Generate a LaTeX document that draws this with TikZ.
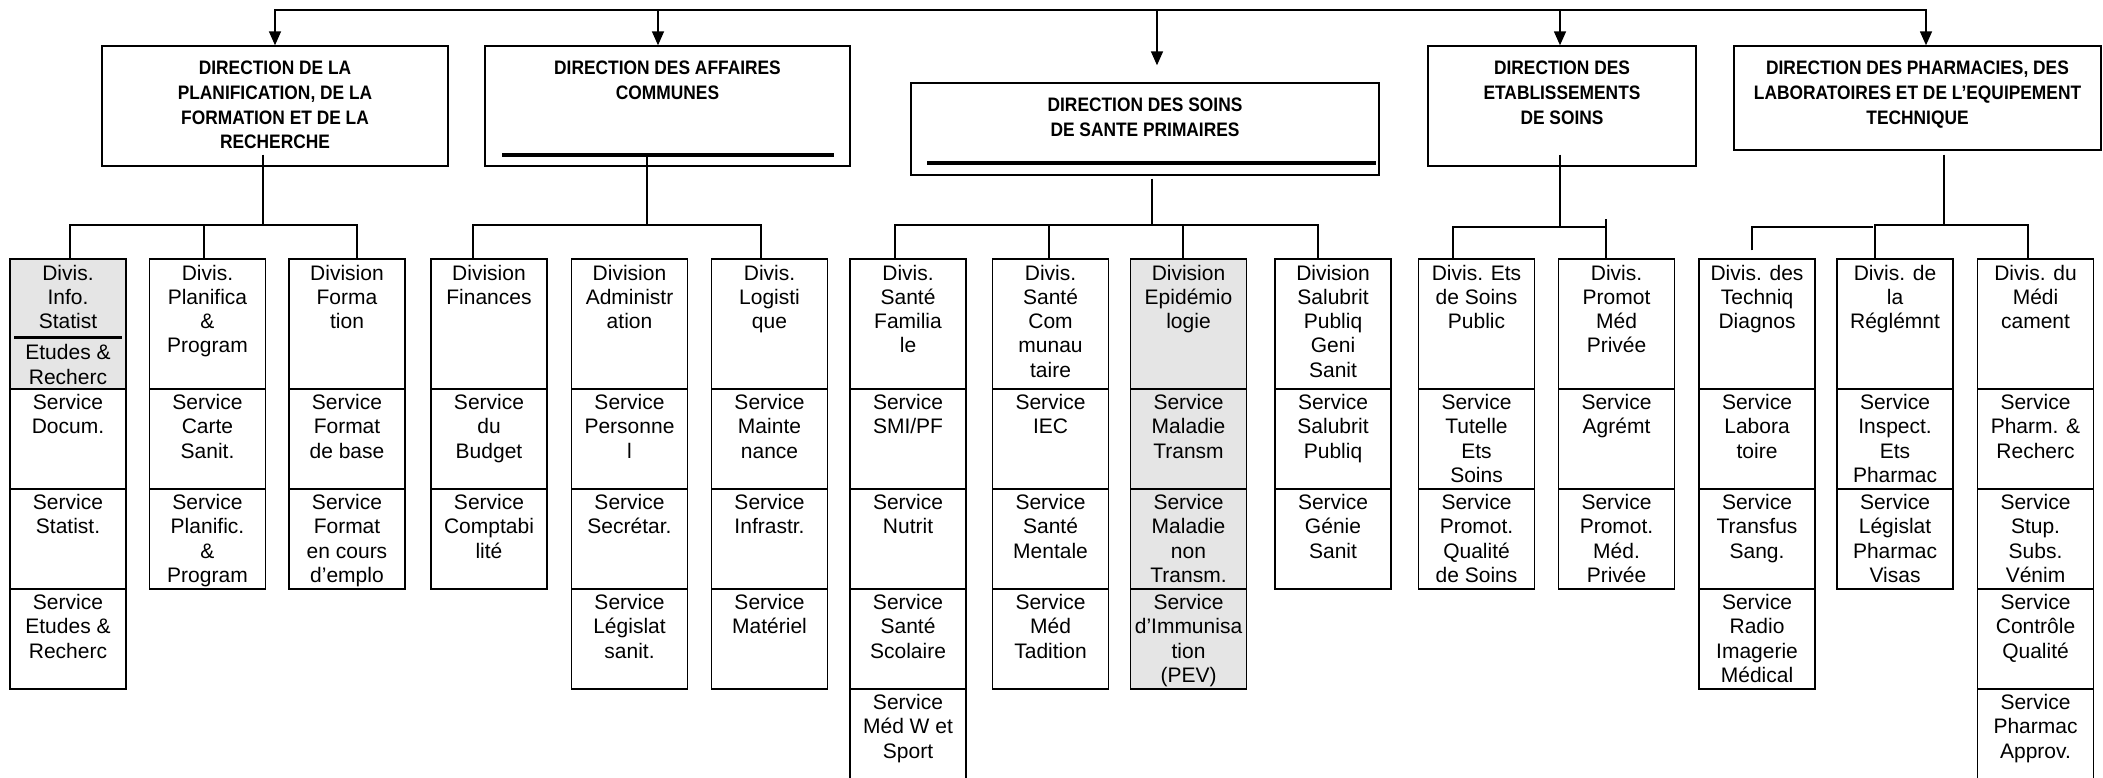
\documentclass[tikz,border=0pt]{standalone}
\usepackage{fontspec}
\setmainfont{Liberation Sans}
\newfontfamily\dirfont[FakeStretch=0.89]{Liberation Sans}
\usepackage{tikz}
\usetikzlibrary{arrows.meta}
\definecolor{shade}{gray}{0.9}
\newcommand{\cellstack}[1]{\begin{tabular}[t]{@{}c@{}}#1\end{tabular}}

\begin{document}
\begin{tikzpicture}[x=1pt, y=-1pt,
	dirbox/.style={rectangle, draw, line width=1.4pt, inner sep=0pt, text height=29pt, font=\dirfont\bfseries\fontsize{19.5}{24.6}\selectfont},
	divbox/.style={rectangle, draw, line width=1.2pt, inner sep=0pt, minimum width=116pt, minimum height=130pt, text height=21pt, text depth=109pt, font=\fontsize{21}{24.3}\selectfont},
	svcbox/.style={divbox, minimum height=100pt, text height=20.5pt, text depth=79.5pt},
	link/.style={line width=1.6pt},
	arr/.style={line width=1.6pt, -{Triangle[length=14pt, width=12pt]}},
	thickbar/.style={line width=4pt}]
		\useasboundingbox (0,0) rectangle (2103,778);
		
		\node (rectplanif) [dirbox, minimum width=346pt, text depth=91pt] at (275,106) {\cellstack{DIRECTION DE LA\\PLANIFICATION, DE LA\\FORMATION ET DE LA\\RECHERCHE}};
		
		\node (rectaffaires) [dirbox, minimum width=365pt, text depth=91pt] at (667.5,106) {\cellstack{DIRECTION DES AFFAIRES\\COMMUNES}};
		
		\node (rectsoins) [dirbox, minimum width=468pt, text depth=63pt] at (1145,129) {\cellstack{DIRECTION DES SOINS\\DE SANTE PRIMAIRES}};
		
		\node (rectetabl) [dirbox, minimum width=268pt, text depth=91pt] at (1562,106) {\cellstack{DIRECTION DES\\ETABLISSEMENTS\\DE SOINS}};
		
		\node (rectpharma) [dirbox, minimum width=367pt, text depth=75pt] at (1917.5,98) {\cellstack{DIRECTION DES PHARMACIES, DES\\LABORATOIRES ET DE L’EQUIPEMENT\\TECHNIQUE}};
		
		\draw [thickbar] ([xshift=18pt,yshift=12pt]rectaffaires.south west) -- ([xshift=-17pt,yshift=12pt]rectaffaires.south east);
		\draw [thickbar] ([xshift=17pt,yshift=13pt]rectsoins.south west) -- ([xshift=-4pt,yshift=13pt]rectsoins.south east);
		
		\coordinate (rail) at (1157,10);
		\draw [arr] (rail) -| (rectplanif.north);
		\draw [arr] (rail) -| ([xshift=-9.5pt]rectaffaires.north);
		\draw [arr] (rail) -- ([xshift=12pt,yshift=17pt]rectsoins.north);
		\draw [arr] (rail) -| ([xshift=-2pt]rectetabl.north);
		\draw [arr] (rail) -| ([xshift=8.5pt]rectpharma.north);
		
		\node (divinfo) [divbox, fill=shade] at (68,324) {\cellstack{Divis.\\Info.\\Statist\\[7pt]Etudes \&\\Recherc}};
		\draw [line width=3pt] ([xshift=5pt,yshift=-79pt]divinfo.north west) -- ([xshift=-5pt,yshift=-79pt]divinfo.north east);
		\node (svcdocum) [svcbox] at (68,439) {\cellstack{Service\\Docum.}};
		\node (svcstatist) [svcbox] at (68,539) {\cellstack{Service\\Statist.}};
		\node (svcetudes) [svcbox] at (68,639) {\cellstack{Service\\Etudes \&\\Recherc}};
		
		\node (divplanif) [divbox] at (207.5,324) {\cellstack{Divis.\\Planifica\\\&\\Program}};
		\node (svccarte) [svcbox] at (207.5,439) {\cellstack{Service\\Carte\\Sanit.}};
		\node (svcplanif) [svcbox] at (207.5,539) {\cellstack{Service\\Planific.\\\&\\Program}};
		
		\node (divformation) [divbox] at (347,324) {\cellstack{Division\\Forma\\tion}};
		\node (svcformbase) [svcbox] at (347,439) {\cellstack{Service\\Format\\de base}};
		\node (svcformcours) [svcbox] at (347,539) {\cellstack{Service\\Format\\en cours\\d’emplo}};
		
		\node (divfinances) [divbox] at (489,324) {\cellstack{Division\\Finances}};
		\node (svcbudget) [svcbox] at (489,439) {\cellstack{Service\\du\\Budget}};
		\node (svccompta) [svcbox] at (489,539) {\cellstack{Service\\Comptabi\\lité}};
		
		\node (divadmin) [divbox] at (629.5,324) {\cellstack{Division\\Administr\\ation}};
		\node (svcpersonnel) [svcbox] at (629.5,439) {\cellstack{Service\\Personne\\l}};
		\node (svcsecret) [svcbox] at (629.5,539) {\cellstack{Service\\Secrétar.}};
		\node (svclegislat) [svcbox] at (629.5,639) {\cellstack{Service\\Législat\\sanit.}};
		
		\node (divlogist) [divbox] at (769.5,324) {\cellstack{Divis.\\Logisti\\que}};
		\node (svcmaint) [svcbox] at (769.5,439) {\cellstack{Service\\Mainte\\nance}};
		\node (svcinfra) [svcbox] at (769.5,539) {\cellstack{Service\\Infrastr.}};
		\node (svcmateriel) [svcbox] at (769.5,639) {\cellstack{Service\\Matériel}};
		
		\node (divfamil) [divbox] at (908,324) {\cellstack{Divis.\\Santé\\Familia\\le}};
		\node (svcsmi) [svcbox] at (908,439) {\cellstack{Service\\SMI/PF}};
		\node (svcnutrit) [svcbox] at (908,539) {\cellstack{Service\\Nutrit}};
		\node (svcscolaire) [svcbox] at (908,639) {\cellstack{Service\\Santé\\Scolaire}};
		\node (svcsport) [svcbox] at (908,739) {\cellstack{Service\\Méd W et\\Sport}};
		
		\node (divcommun) [divbox] at (1050.5,324) {\cellstack{Divis.\\Santé\\Com\\munau\\taire}};
		\node (svciec) [svcbox] at (1050.5,439) {\cellstack{Service\\IEC}};
		\node (svcmentale) [svcbox] at (1050.5,539) {\cellstack{Service\\Santé\\Mentale}};
		\node (svctradit) [svcbox] at (1050.5,639) {\cellstack{Service\\Méd\\Tadition}};
		
		\node (divepidem) [divbox, fill=shade] at (1188.5,324) {\cellstack{Division\\Epidémio\\logie}};
		\node (svctransm) [svcbox, fill=shade] at (1188.5,439) {\cellstack{Service\\Maladie\\Transm}};
		\node (svcnontransm) [svcbox, fill=shade] at (1188.5,539) {\cellstack{Service\\Maladie\\non\\Transm.}};
		\node (svcimmun) [svcbox, fill=shade] at (1188.5,639) {\cellstack{Service\\d’Immunisa\\tion\\(PEV)}};
		
		\node (divsalub) [divbox] at (1333,324) {\cellstack{Division\\Salubrit\\Publiq\\Geni\\Sanit}};
		\node (svcsalub) [svcbox] at (1333,439) {\cellstack{Service\\Salubrit\\Publiq}};
		\node (svcgenie) [svcbox] at (1333,539) {\cellstack{Service\\Génie\\Sanit}};
		
		\node (divetab) [divbox] at (1476.5,324) {\cellstack{Divis. Ets\\de Soins\\Public}};
		\node (svctutelle) [svcbox] at (1476.5,439) {\cellstack{Service\\Tutelle\\Ets\\Soins}};
		\node (svcqualite) [svcbox] at (1476.5,539) {\cellstack{Service\\Promot.\\Qualité\\de Soins}};
		
		\node (divpromot) [divbox] at (1616.5,324) {\cellstack{Divis.\\Promot\\Méd\\Privée}};
		\node (svcagrem) [svcbox] at (1616.5,439) {\cellstack{Service\\Agrémt}};
		\node (svcprommed) [svcbox] at (1616.5,539) {\cellstack{Service\\Promot.\\Méd.\\Privée}};
		
		\node (divtechniq) [divbox] at (1757,324) {\cellstack{Divis. des\\Techniq\\Diagnos}};
		\node (svclabo) [svcbox] at (1757,439) {\cellstack{Service\\Labora\\toire}};
		\node (svcsang) [svcbox] at (1757,539) {\cellstack{Service\\Transfus\\Sang.}};
		\node (svcradio) [svcbox] at (1757,639) {\cellstack{Service\\Radio\\Imagerie\\Médical}};
		
		\node (divreglem) [divbox] at (1895,324) {\cellstack{Divis. de\\la\\Réglémnt}};
		\node (svcinspect) [svcbox] at (1895,439) {\cellstack{Service\\Inspect.\\Ets\\Pharmac}};
		\node (svcvisas) [svcbox] at (1895,539) {\cellstack{Service\\Législat\\Pharmac\\Visas}};
		
		\node (divmedic) [divbox] at (2035.5,324) {\cellstack{Divis. du\\Médi\\cament}};
		\node (svcpharm) [svcbox] at (2035.5,439) {\cellstack{Service\\Pharm. \&\\Recherc}};
		\node (svcstup) [svcbox] at (2035.5,539) {\cellstack{Service\\Stup.\\Subs.\\Vénim}};
		\node (svccontrole) [svcbox] at (2035.5,639) {\cellstack{Service\\Contrôle\\Qualité}};
		\node (svcapprov) [svcbox] at (2035.5,739) {\cellstack{Service\\Pharmac\\Approv.}};
		
		\coordinate (busA) at (263,225);
		\coordinate (busB) at (647,225);
		\coordinate (busC) at (1152,225);
		\coordinate (busD) at (1560,227);
		\coordinate (busE) at (1944,225);
		\coordinate (busEleft) at (1873,227);
		
		\draw [link] ([xshift=-12pt,yshift=12pt]rectplanif.south) -- (busA);
		\draw [link] ([xshift=2pt]divinfo.north) |- (busA);
		\draw [link] ([xshift=-3.5pt]divplanif.north) |- (busA);
		\draw [link] ([xshift=10pt]divformation.north) |- (busA);
		
		\draw [link] ([xshift=-20.5pt,yshift=12pt]rectaffaires.south) -- (busB);
		\draw [link] ([xshift=-16pt]divfinances.north) |- (busB);
		\draw [link] ([xshift=-8.5pt]divlogist.north) |- (busB);
		
		\draw [link] ([xshift=7pt,yshift=-3pt]rectsoins.south) -- (busC);
		\draw [link] ([xshift=-13pt]divfamil.north) |- (busC);
		\draw [link] ([xshift=-1.5pt]divcommun.north) |- (busC);
		\draw [link] ([xshift=-5.5pt]divepidem.north) |- (busC);
		\draw [link] ([xshift=-15pt]divsalub.north) |- (busC);
		
		\draw [link] ([xshift=-2pt,yshift=12pt]rectetabl.south) -- (busD);
		\draw [link] ([xshift=-23.5pt]divetab.north) |- (busD);
		\draw [link] ([xshift=-10.5pt]divpromot.north) |- (busD);
		\draw [link] ([xshift=-10.5pt,yshift=39pt]divpromot.north) -- ([xshift=-10.5pt]divpromot.north);
		
		\draw [link] ([xshift=26.5pt,yshift=-4pt]rectpharma.south) -- (busE);
		\draw [link] ([xshift=-20pt]divreglem.north) |- (busE);
		\draw [link] ([xshift=-7.5pt]divmedic.north) |- (busE);
		\draw [link] ([xshift=-5pt,yshift=8pt]divtechniq.north) |- (busEleft);
		
\end{tikzpicture}
\end{document}
